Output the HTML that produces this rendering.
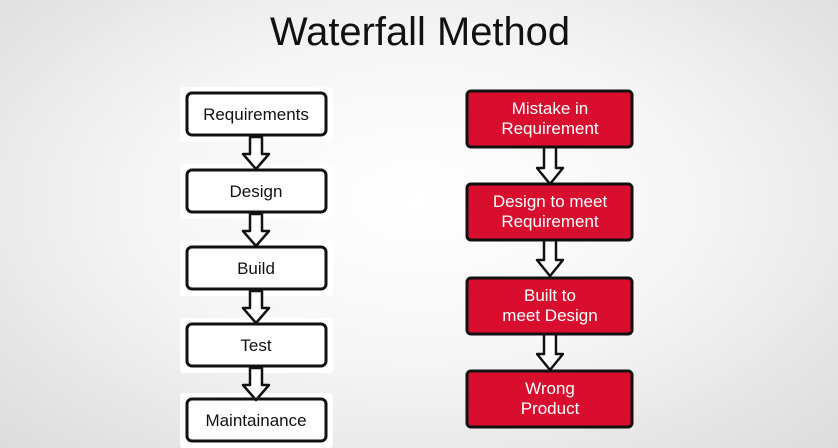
<!DOCTYPE html>
<html><head><meta charset="utf-8"><style>
html,body{margin:0;padding:0;width:838px;height:448px;overflow:hidden}
body{background:radial-gradient(ellipse at 50% 45%,#ffffff 0%,#f6f6f6 45%,#dcdcdc 100%)}
svg{display:block}
</style></head><body>
<svg width="838" height="448" viewBox="0 0 838 448" xmlns="http://www.w3.org/2000/svg" font-family="Liberation Sans, sans-serif">
<text x="420" y="45" font-size="40" text-anchor="middle" textLength="300" lengthAdjust="spacingAndGlyphs" fill="#111">Waterfall Method</text>
<g id="left">
<!-- boxes -->
<g stroke="#111" stroke-width="3" fill="#fff">
<rect x="180" y="87" width="153" height="55" fill="#fff" stroke="none" rx="3"/>
<rect x="187" y="93" width="139" height="42" rx="5"/>
<rect x="180" y="164" width="153" height="55" stroke="none" rx="3"/>
<rect x="187" y="170" width="139" height="42" rx="5"/>
<rect x="180" y="241" width="153" height="55" stroke="none" rx="3"/>
<rect x="187" y="247" width="139" height="42" rx="5"/>
<rect x="180" y="318" width="153" height="55" stroke="none" rx="3"/>
<rect x="187" y="324" width="139" height="42" rx="5"/>
<rect x="180" y="393" width="153" height="55" stroke="none" rx="3"/>
<rect x="187" y="399" width="139" height="42" rx="5"/>
</g>
<g stroke="#111" stroke-width="2.5" fill="#fff" stroke-linejoin="round">
<path d="M250 137 h12 v17 h7 l-13 15 l-13 -15 h7 z"/>
<path d="M250 214 h12 v17 h7 l-13 15 l-13 -15 h7 z"/>
<path d="M250 291 h12 v17 h7 l-13 15 l-13 -15 h7 z"/>
<path d="M250 368 h12 v17 h7 l-13 15 l-13 -15 h7 z"/>
</g>
<g font-size="17" text-anchor="middle" fill="#111">
<text x="256" y="120">Requirements</text>
<text x="256" y="197">Design</text>
<text x="256" y="274">Build</text>
<text x="256" y="351">Test</text>
<text x="256" y="426">Maintainance</text>
</g>
</g>
<g id="right">
<g stroke="#fff" stroke-width="3" fill="#fff" stroke-linejoin="round">
<path d="M543 146 h14 v22 h8 l-15 17 l-15 -17 h8 z"/>
<path d="M543 238 h14 v22 h8 l-15 17 l-15 -17 h8 z"/>
<path d="M543 332 h14 v22 h8 l-15 17 l-15 -17 h8 z"/>
</g>
<g stroke="#111" stroke-width="2.5" fill="#fff" stroke-linejoin="round">
<path d="M544 146 h12 v22 h7 l-13 16 l-13 -16 h7 z"/>
<path d="M544 238 h12 v22 h7 l-13 16 l-13 -16 h7 z"/>
<path d="M544 332 h12 v22 h7 l-13 16 l-13 -16 h7 z"/>
</g>
<g fill="#d90e2f" stroke="#111" stroke-width="3">
<rect x="467" y="91" width="165" height="56" rx="4"/>
<rect x="467" y="184" width="165" height="56" rx="4"/>
<rect x="467" y="278" width="165" height="56" rx="4"/>
<rect x="467" y="371" width="165" height="56" rx="4"/>
</g>
<g font-size="17" text-anchor="middle" fill="#fff">
<text x="550" y="114">Mistake in</text>
<text x="550" y="134">Requirement</text>
<text x="550" y="207">Design to meet</text>
<text x="550" y="227">Requirement</text>
<text x="550" y="301">Built to</text>
<text x="550" y="321">meet Design</text>
<text x="550" y="394">Wrong</text>
<text x="550" y="414">Product</text>
</g>
</g>
</svg>
</body></html>
